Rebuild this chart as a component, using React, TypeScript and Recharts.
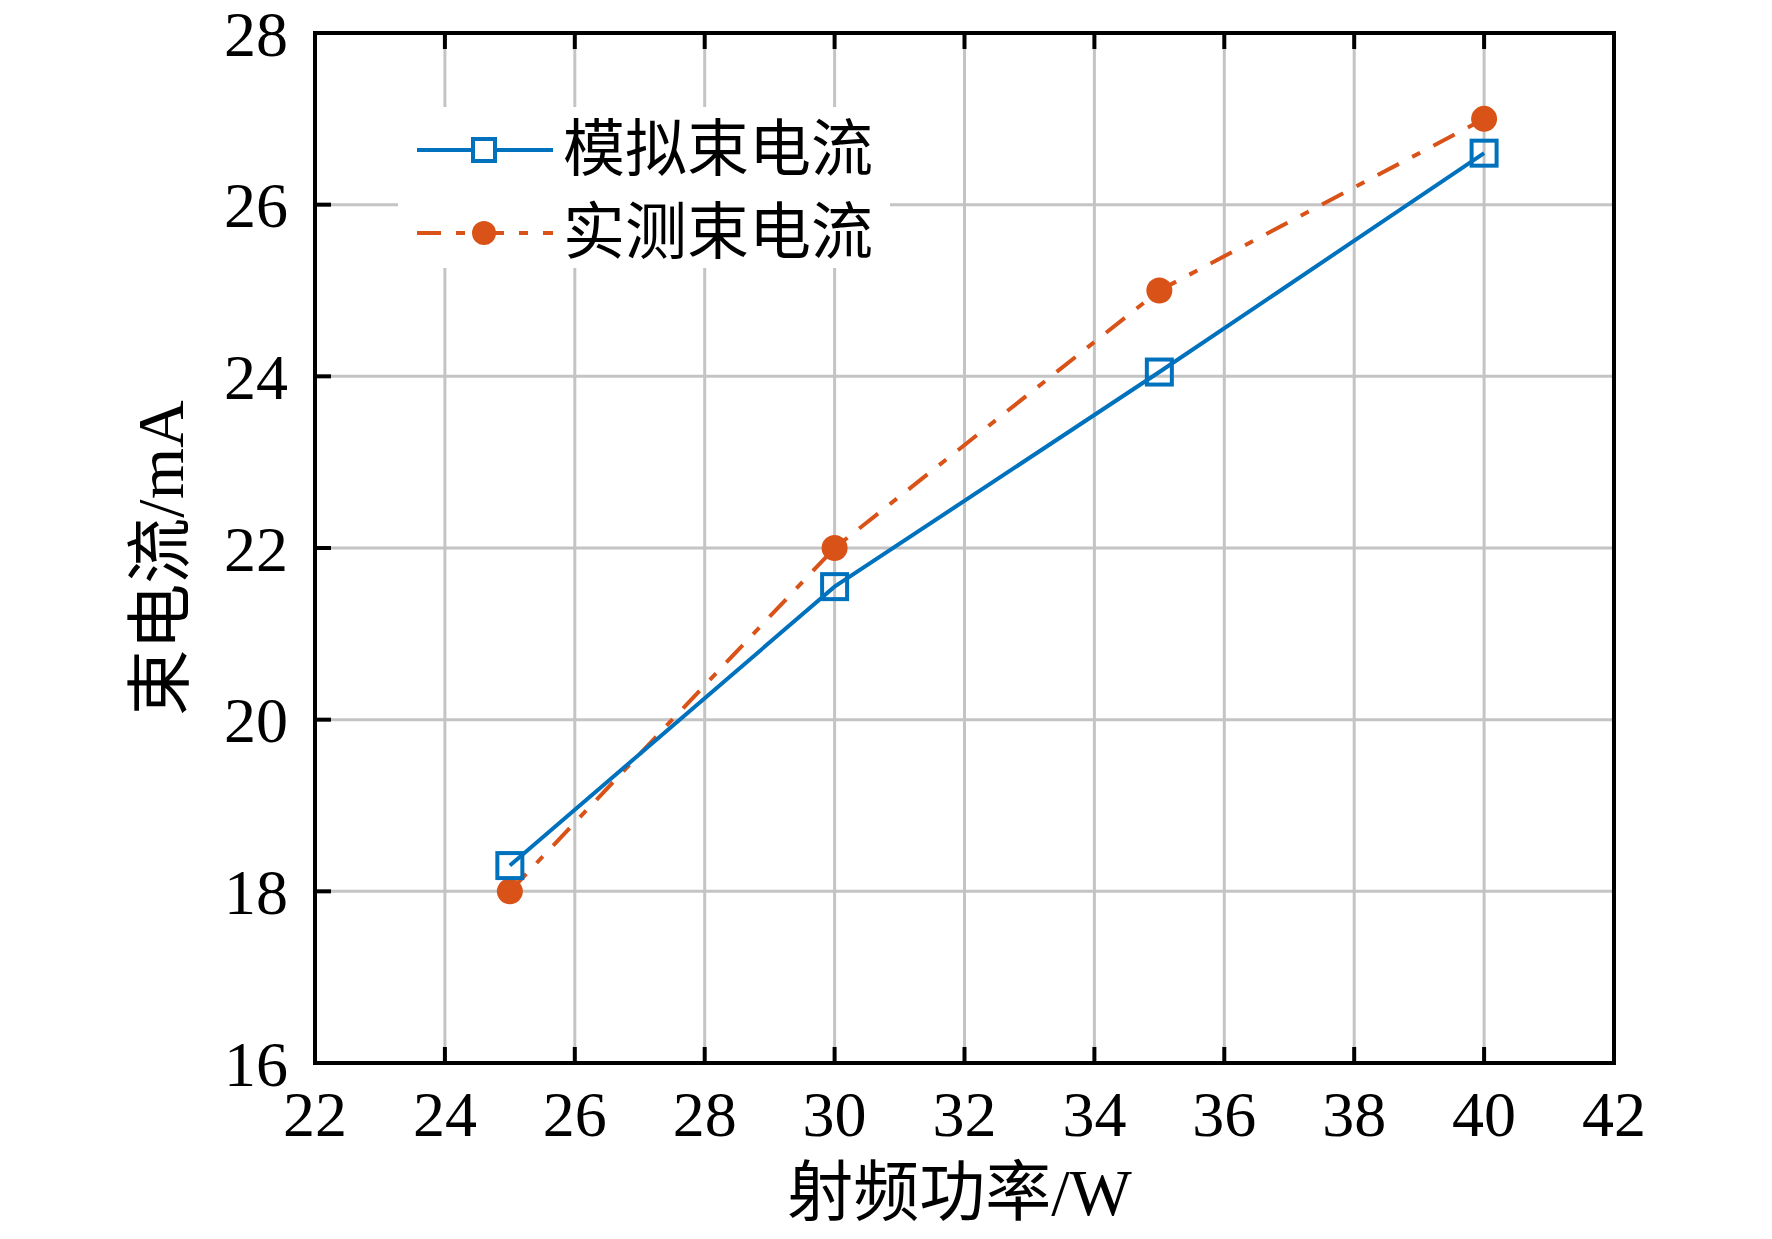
import React from 'react';
import { LineChart, Line, XAxis, YAxis, CartesianGrid, Legend, Label } from 'recharts';

const powers = [25, 30, 35, 40];
const simulated = [18.3, 21.55, 24.05, 26.6];
const measured = [18.0, 22.0, 25.0, 27.0];
const xTicks = [22, 24, 26, 28, 30, 32, 34, 36, 38, 40, 42];
const yTicks = [16, 18, 20, 22, 24, 26, 28];
const seriesNames = ['模拟束电流', '实测束电流'];
const xTitle = '射频功率/W';
const yTitle = '束电流/mA';

const data = powers.map((p, i) => ({ power: p, sim: simulated[i], meas: measured[i] }));

const FONT = '"Liberation Serif", "Times New Roman", "Noto Sans CJK SC", serif';
const BLUE = '#0072BD';
const ORANGE = '#D95319';
const GRID = '#c4c4c4';
const TICK_LEN = 16;
const TICK_FONT = 64;
const DASH = '24 15 9 15';

const LeftTick = (props: any) => {
  const { x, y, payload } = props;
  const ax = x + 27;
  return (
    <g>
      <line x1={ax} x2={ax + TICK_LEN} y1={y} y2={y} stroke="#000" strokeWidth={4} />
      <text x={x} y={y} dy="0.355em" textAnchor="end" fontFamily={FONT} fontSize={TICK_FONT} fill="#000">
        {payload.value}
      </text>
    </g>
  );
};

const BottomTick = (props: any) => {
  const { x, y, payload } = props;
  const ay = y - 28;
  return (
    <g>
      <line x1={x} x2={x} y1={ay} y2={ay - TICK_LEN} stroke="#000" strokeWidth={4} />
      <text x={x} y={y} dy="0.71em" textAnchor="middle" fontFamily={FONT} fontSize={TICK_FONT} fill="#000">
        {payload.value}
      </text>
    </g>
  );
};

const TopTick = (props: any) => {
  const { x, y } = props;
  return <line x1={x} x2={x} y1={y} y2={y + TICK_LEN} stroke="#000" strokeWidth={4} />;
};

const RightTick = (props: any) => {
  const { x, y } = props;
  return <line x1={x} x2={x - TICK_LEN} y1={y} y2={y} stroke="#000" strokeWidth={4} />;
};

const SquareDot = (props: any) => {
  const { cx, cy, index } = props;
  if (cx == null || cy == null) return <g key={`s-${index}`} />;
  return (
    <rect key={`s-${index}`} x={cx - 12.5} y={cy - 12.5} width={25} height={25} fill="none" stroke={BLUE} strokeWidth={4} />
  );
};

const CircleDot = (props: any) => {
  const { cx, cy, index } = props;
  if (cx == null || cy == null) return <g key={`c-${index}`} />;
  return <circle key={`c-${index}`} cx={cx} cy={cy} r={13} fill={ORANGE} stroke="none" />;
};

const LegendBox = () => (
  <div style={{ width: 492, height: 161, background: '#fff' }}>
    <svg width={492} height={161} style={{ overflow: 'visible', display: 'block' }}>
      <line x1={19} x2={155} y1={43} y2={43} stroke={BLUE} strokeWidth={4} />
      <rect x={86 - 11} y={43 - 11} width={22} height={22} fill="#fff" stroke={BLUE} strokeWidth={4} />
      <text x={165} y={43 + 21} fontFamily={FONT} fontSize={62} fill="#000">{seriesNames[0]}</text>
      <line x1={19} x2={155} y1={126} y2={126} stroke={ORANGE} strokeWidth={4} strokeDasharray={DASH} />
      <circle cx={86} cy={126} r={12} fill={ORANGE} />
      <text x={165} y={126 + 21} fontFamily={FONT} fontSize={62} fill="#000">{seriesNames[1]}</text>
    </svg>
  </div>
);

const YTitle = (props: any) => {
  const vb = props.viewBox || { x: 215, y: 33, width: 100, height: 1030 };
  const cx = vb.x + vb.width - 155;
  const cy = vb.y + vb.height / 2 + 10;
  return (
    <text x={cx} y={cy} transform={`rotate(-90 ${cx} ${cy})`} textAnchor="middle" dominantBaseline="central" fontFamily={FONT} fontSize={66} fill="#000">
      {yTitle}
    </text>
  );
};

const XTitle = (props: any) => {
  const vb = props.viewBox || { x: 315, y: 1063, width: 1299, height: 80 };
  const cx = vb.x + vb.width / 2 - 5;
  const by = vb.y + 152;
  return (
    <text x={cx} y={by} textAnchor="middle" fontFamily={FONT} fontSize={66} fill="#000">
      {xTitle}
    </text>
  );
};

const axisLineStyle = { stroke: '#000', strokeWidth: 4, strokeLinecap: 'square' as const };

export default function App() {
  return (
    <div style={{ position: 'absolute', left: 0, top: 0, width: 1772, height: 1239, background: '#fff' }}>
      <LineChart width={1772} height={1239} data={data} margin={{ top: 32, right: 157, left: 215, bottom: 96 }}>
        <CartesianGrid stroke={GRID} strokeWidth={3} />
        <XAxis
          xAxisId={0}
          dataKey="power"
          type="number"
          domain={[22, 42]}
          ticks={xTicks}
          height={80}
          tickSize={0}
          tickMargin={28}
          tickLine={false}
          axisLine={axisLineStyle}
          tick={<BottomTick />}
          interval={0}
        >
          <Label content={<XTitle />} />
        </XAxis>
        <XAxis
          xAxisId="top"
          orientation="top"
          dataKey="power"
          type="number"
          domain={[22, 42]}
          ticks={xTicks}
          height={1}
          tickSize={0}
          tickMargin={0}
          tickLine={false}
          axisLine={axisLineStyle}
          tick={<TopTick />}
          interval={0}
        />
        <YAxis
          yAxisId={0}
          type="number"
          domain={[16, 28]}
          ticks={yTicks}
          width={100}
          tickSize={0}
          tickMargin={27}
          tickLine={false}
          axisLine={axisLineStyle}
          tick={<LeftTick />}
          interval={0}
        >
          <Label content={<YTitle />} />
        </YAxis>
        <YAxis
          yAxisId="right"
          orientation="right"
          type="number"
          domain={[16, 28]}
          ticks={yTicks}
          width={1}
          tickSize={0}
          tickMargin={0}
          tickLine={false}
          axisLine={axisLineStyle}
          tick={<RightTick />}
          interval={0}
        />
        <Legend
          layout="vertical"
          align="center"
          verticalAlign="middle"
          wrapperStyle={{ left: 398, top: 107, width: 492, height: 161 }}
          content={<LegendBox />}
        />
        <Line
          xAxisId={0}
          yAxisId={0}
          type="linear"
          dataKey="meas"
          name={seriesNames[1]}
          stroke={ORANGE}
          strokeWidth={4}
          strokeDasharray={DASH}
          dot={<CircleDot />}
          activeDot={false}
          isAnimationActive={false}
        />
        <Line
          xAxisId={0}
          yAxisId={0}
          type="linear"
          dataKey="sim"
          name={seriesNames[0]}
          stroke={BLUE}
          strokeWidth={4}
          dot={<SquareDot />}
          activeDot={false}
          isAnimationActive={false}
        />
      </LineChart>
    </div>
  );
}
